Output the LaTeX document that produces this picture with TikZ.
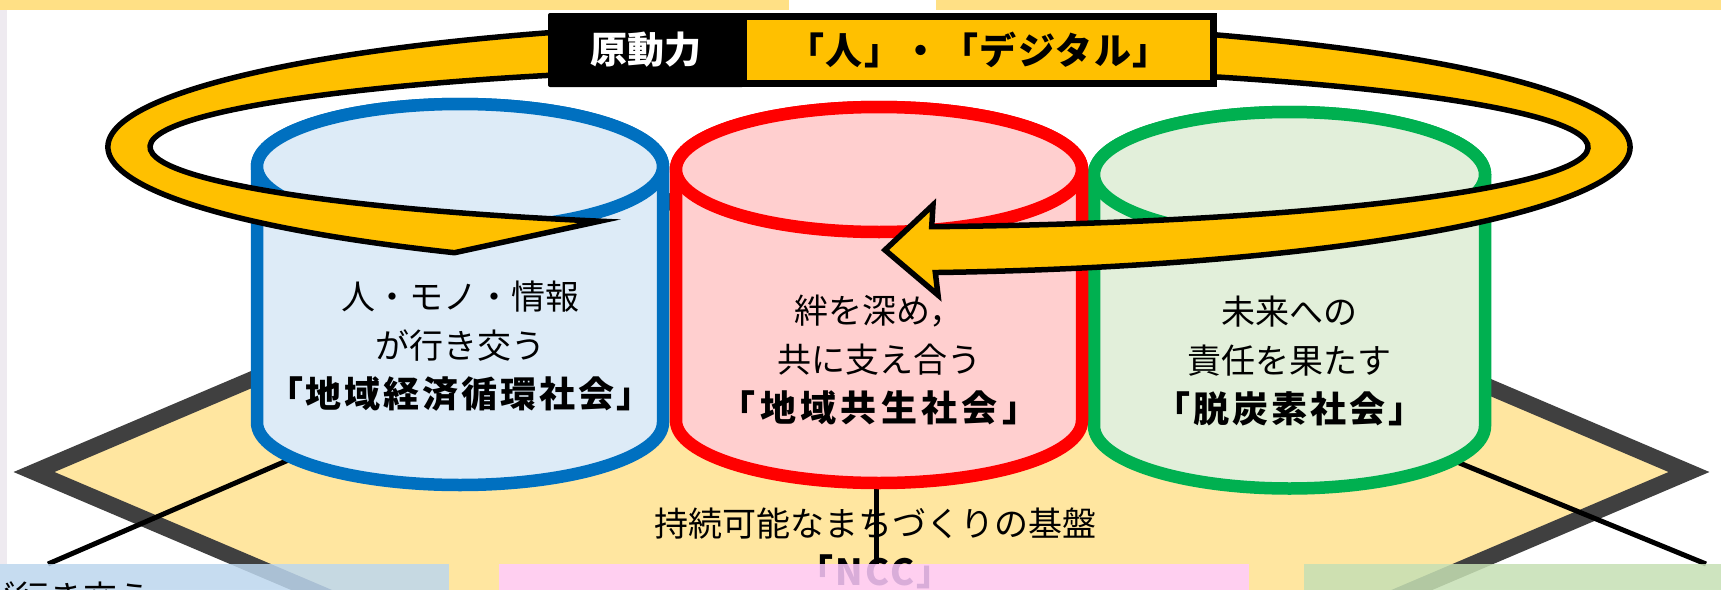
\documentclass[tikz,border=0pt]{standalone}
\usepackage{fontspec}
\newfontfamily\jp{Noto Sans CJK JP}
\usepackage{tikz}

\definecolor{ringYellow}{RGB}{255,192,0}
\definecolor{baseYellow}{RGB}{255,230,160}
\definecolor{topYellow}{RGB}{255,224,133}
\definecolor{baseGray}{RGB}{64,64,64}
\definecolor{edgeGray}{RGB}{238,234,240}
\definecolor{econLine}{RGB}{0,112,192}
\definecolor{econFill}{RGB}{221,235,247}
\definecolor{commLine}{RGB}{255,0,0}
\definecolor{commFill}{RGB}{255,207,207}
\definecolor{carbLine}{RGB}{0,176,80}
\definecolor{carbFill}{RGB}{226,239,218}
\definecolor{boxBlue}{RGB}{189,215,238}
\definecolor{boxPink}{RGB}{255,204,255}
\definecolor{boxGreen}{RGB}{198,224,180}

\begin{document}
\begin{tikzpicture}[x=1pt,y=1pt,yscale=-1,xscale=1,
  cyltext/.style={align=center,inner sep=0pt,font=\jp\fontsize{34}{49}\selectfont},
  cylwall/.style={line width=12.5,line join=round},
  leg/.style={line width=5,black},
  legbox/.style={fill opacity=0.85,inner sep=0pt,minimum height=40,anchor=north west}]
\useasboundingbox (0,0) rectangle (1721,589);
\fill[white] (0,0) rectangle (1721,589);

%Top strips
\fill[topYellow] (0,0) rectangle (789,10);
\fill[topYellow] (936,0) rectangle (1721,10);
\fill[edgeGray] (0,10) rectangle (7,564);


%Base: diamond
\draw[baseGray,fill=baseYellow,line width=16,line join=miter] (34,472) -- (862,120) -- (1689,472) -- (862,824) -- cycle;
\node[font=\jp\fontsize{34}{40}\selectfont] (baseText) at (875,524) {持続可能なまちづくりの基盤};
\node[font=\jp\bfseries\fontsize{36}{40}\selectfont\addfontfeatures{LetterSpace=6}] (ncc) at (875,572) {「NCC」};


%Legs down to the boxes
\coordinate (econFoot) at (300,455);
\coordinate (econTip) at (48,564);
\coordinate (commFoot) at (876,480);
\coordinate (commTip) at (876,564);
\coordinate (carbFoot) at (1440,455);
\coordinate (carbTip) at (1706,564);
\draw[leg] (econFoot) -- (econTip);
\draw[leg] (commFoot) -- (commTip);
\draw[leg] (carbFoot) -- (carbTip);


%Cylinder: economy
\path[cylwall,draw=econLine,fill=econFill] (257,166.5) -- (257,422.5) arc[start angle=180,end angle=0,x radius=203,y radius=62.5] -- (663,166.5) arc[start angle=0,end angle=-180,x radius=203,y radius=62.5] -- cycle;
\draw[cylwall,draw=econLine,fill=econFill] (460,166.5) ellipse[x radius=203,y radius=62.5];
\node[cyltext] (econText) at (460,346) {人・モノ・情報\\が行き交う\\{\bfseries\fontsize{36}{49}\selectfont\addfontfeatures{LetterSpace=8} 「地域経済循環社会」}};

%Cylinder: carbon
\path[cylwall,draw=carbLine,fill=carbFill] (1094,174.5) -- (1094,426) arc[start angle=180,end angle=0,x radius=195.5,y radius=62.5] -- (1485,174.5) arc[start angle=0,end angle=-180,x radius=195.5,y radius=62.5] -- cycle;
\draw[cylwall,draw=carbLine,fill=carbFill] (1289.5,174.5) ellipse[x radius=195.5,y radius=62.5];
\node[cyltext] (carbText) at (1289.5,361) {未来への\\責任を果たす\\{\bfseries\fontsize{36}{49}\selectfont\addfontfeatures{LetterSpace=8} 「脱炭素社会」}};

%Cylinder: community
\path[cylwall,draw=commLine,fill=commFill] (676,169.5) -- (676,420.5) arc[start angle=180,end angle=0,x radius=203,y radius=62.5] -- (1082,169.5) arc[start angle=0,end angle=-180,x radius=203,y radius=62.5] -- cycle;
\draw[cylwall,draw=commLine,fill=commFill] (879,169.5) ellipse[x radius=203,y radius=62.5];
\node[cyltext] (commText) at (879,360) {絆を深め，\\共に支え合う\\{\bfseries\fontsize{36}{49}\selectfont\addfontfeatures{LetterSpace=12} 「地域共生社会」}};


%Ring arrow round the three
\draw[fill=ringYellow,line width=5.5,line join=miter] (454.5,252.7) arc[start angle=123,end angle=445,x radius=761,y radius=126] -- (938,295) -- (885,250) -- (933,205) -- (931.7,226.7) arc[start angle=445,end angle=112,x radius=719,y radius=80] -- cycle;


%Label: engine
\node[fill=black,rounded corners=2,minimum width=196,minimum height=74,inner sep=0pt,text=white,font=\jp\bfseries\fontsize{37}{40}\selectfont] (engine) at (646,50) {原動力};
\node[fill=ringYellow,draw=black,line width=6.5,minimum width=470,minimum height=67,inner sep=0pt,font=\jp\bfseries\fontsize{37}{40}\selectfont\addfontfeatures{LetterSpace=4}] (driver) at (978.5,50) {「人」・「デジタル」};


%Boxes below
\node[legbox,fill=boxBlue,minimum width=449] (econBox) at (0,564) {};
\node[legbox,fill=boxPink,minimum width=750] (commBox) at (499,564) {};
\node[legbox,fill=boxGreen,minimum width=417] (carbBox) at (1304,564) {};
\node[anchor=west,inner sep=0pt,font=\jp\fontsize{34}{40}\selectfont] (econCut) at (-19,598) {が行き交う};

\end{tikzpicture}
\end{document}
